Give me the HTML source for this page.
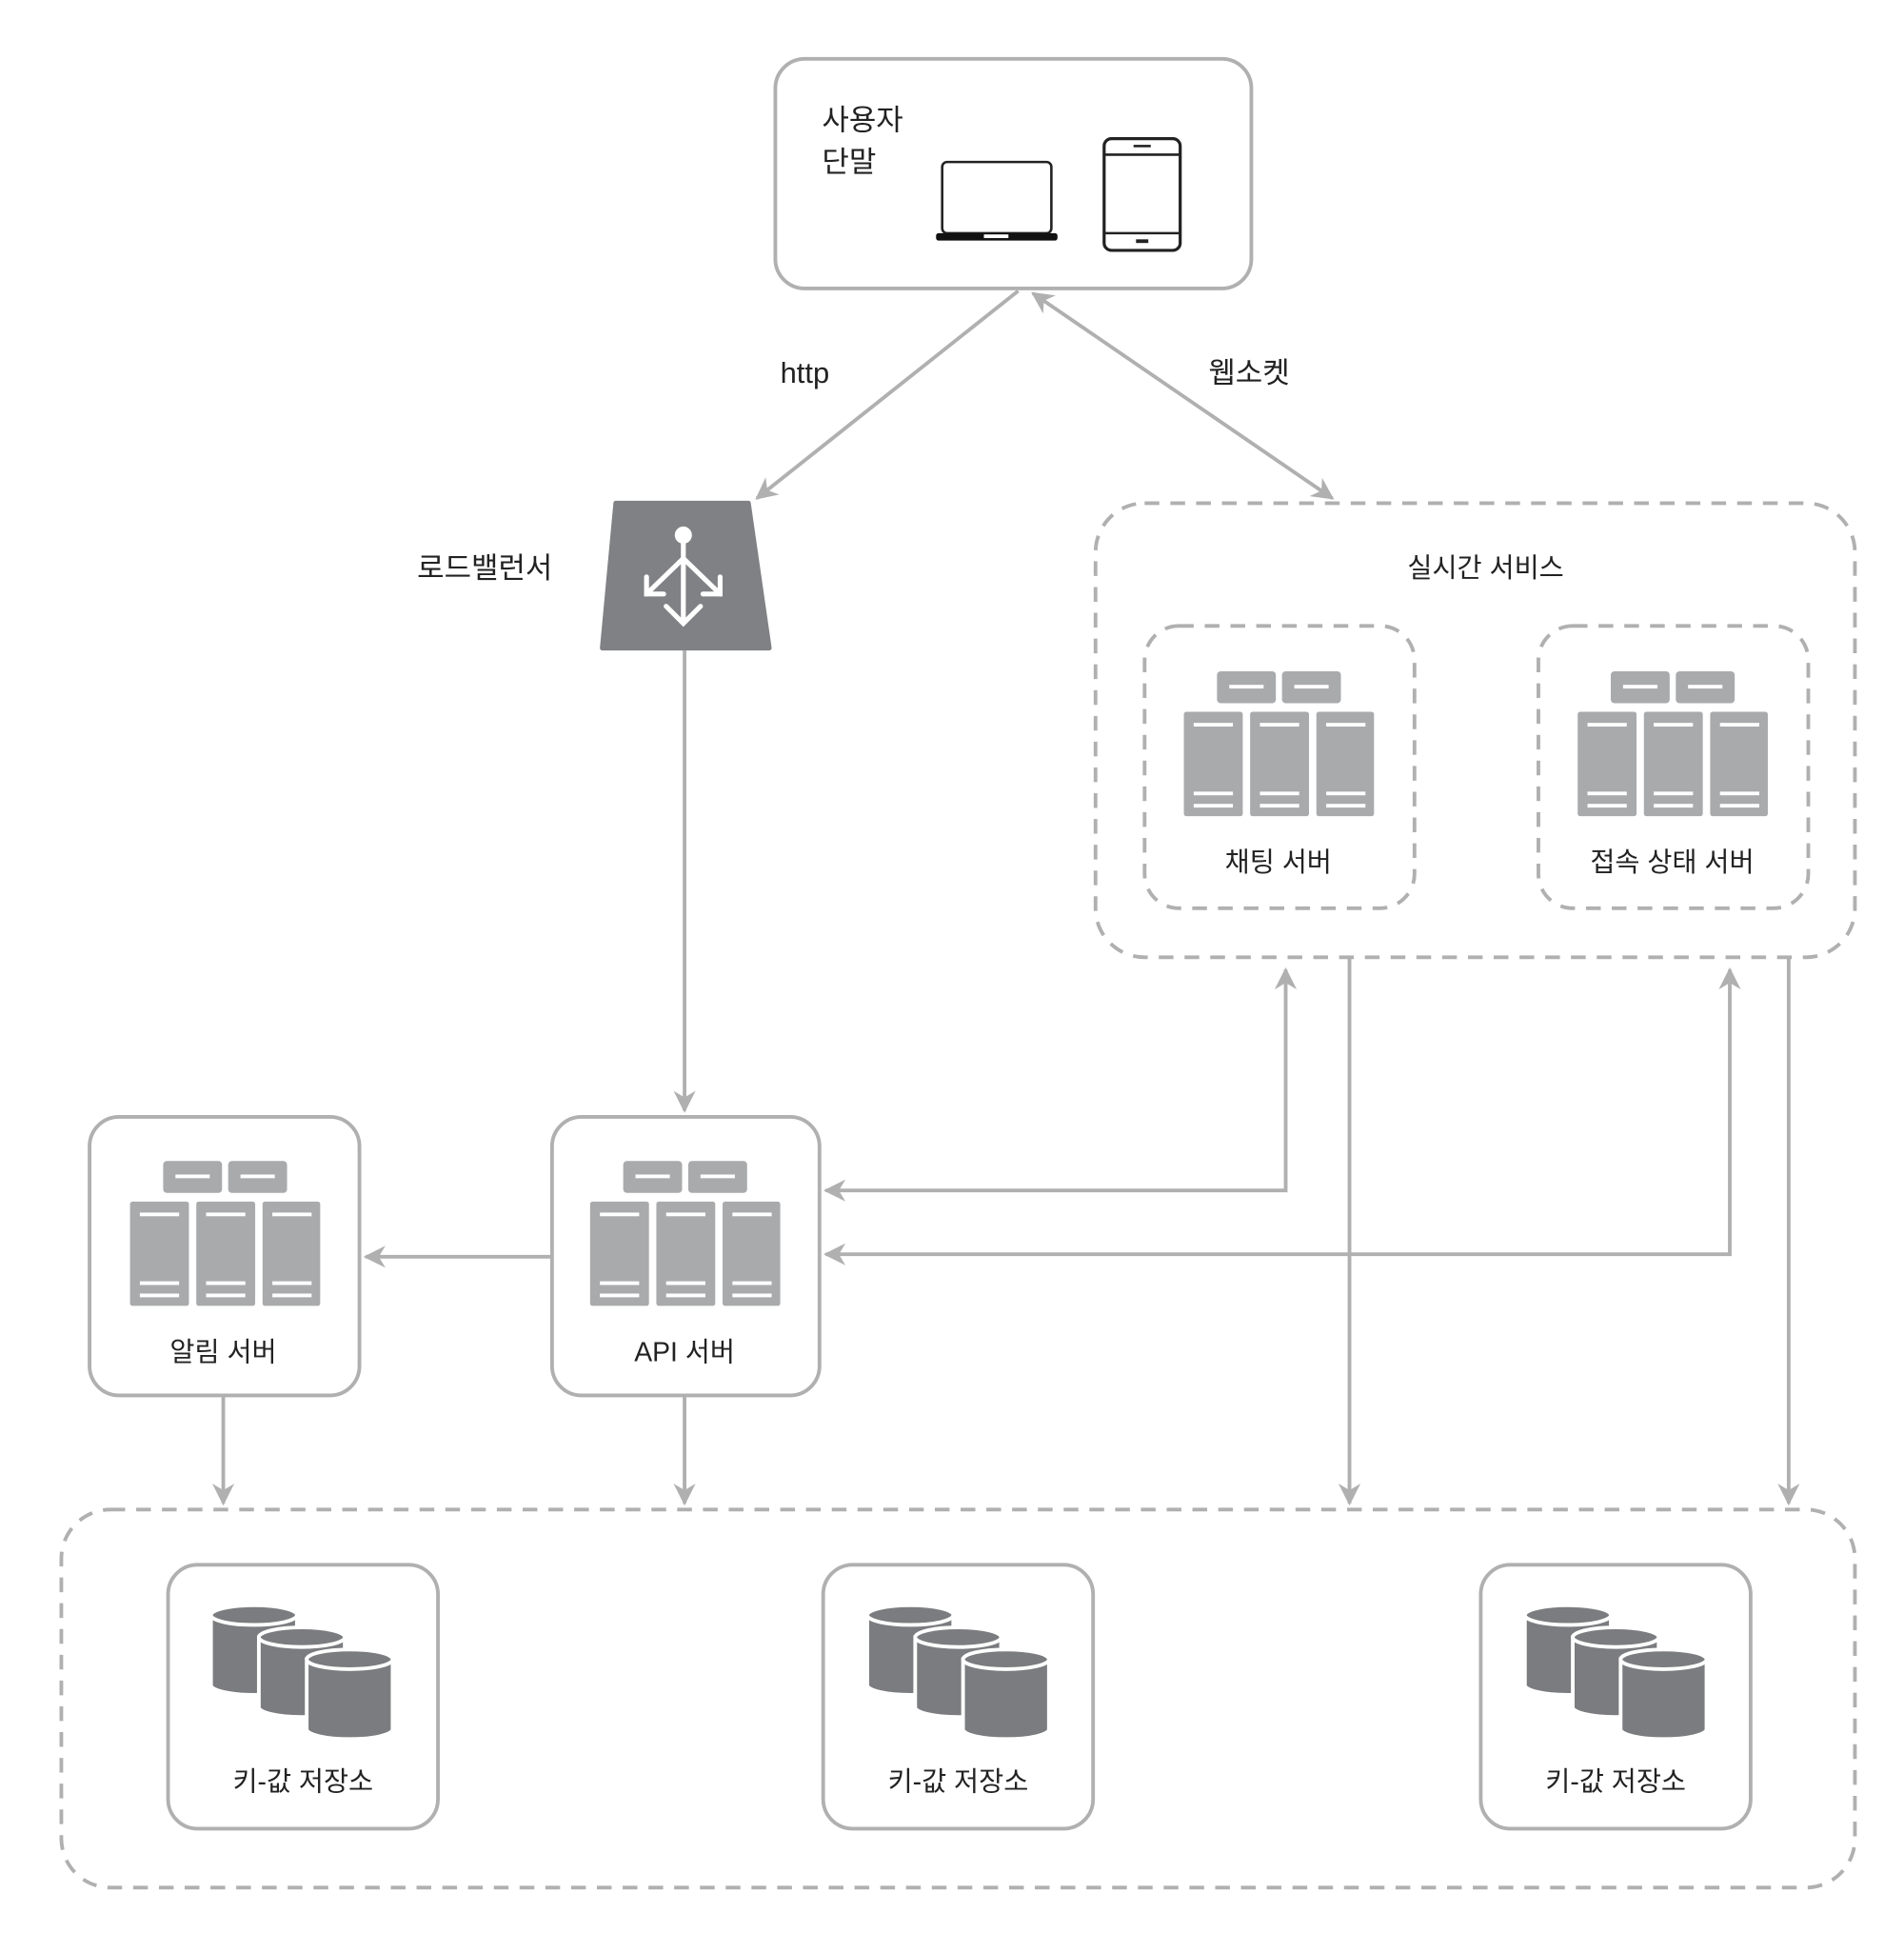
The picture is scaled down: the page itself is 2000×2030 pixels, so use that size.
<!DOCTYPE html>
<html><head><meta charset="utf-8"><style>
html,body{margin:0;padding:0;background:#fff;}
svg{display:block;}
text{font-family:"Liberation Sans","Noto Sans CJK KR",sans-serif;fill:#222;}
</style></head><body>
<svg width="2000" height="2030" viewBox="0 0 1552 1575" preserveAspectRatio="none" xmlns="http://www.w3.org/2000/svg">
<defs>
<marker id="ah" viewBox="0 0 10 10" refX="9" refY="5" markerWidth="6" markerHeight="6" orient="auto-start-reverse" markerUnits="strokeWidth">
<path d="M0,0 L10,5 L0,10 L3,5 z" fill="#b0b0b0"/></marker>
<g id="srv">
<rect x="27" y="0" width="48" height="26" rx="3" fill="#a9aaac"/>
<rect x="80" y="0" width="48" height="26" rx="3" fill="#a9aaac"/>
<rect x="37" y="11" width="28" height="3" fill="#fff"/>
<rect x="90" y="11" width="28" height="3" fill="#fff"/>
<rect x="0" y="33" width="48" height="85" rx="2" fill="#a9aaac"/>
<rect x="54" y="33" width="48" height="85" rx="2" fill="#a9aaac"/>
<rect x="108" y="33" width="47" height="85" rx="2" fill="#a9aaac"/>
<g fill="#fff">
<rect x="8" y="42" width="32" height="3"/><rect x="8" y="98" width="32" height="3"/><rect x="8" y="108" width="32" height="3"/>
<rect x="62" y="42" width="32" height="3"/><rect x="62" y="98" width="32" height="3"/><rect x="62" y="108" width="32" height="3"/>
<rect x="116" y="42" width="32" height="3"/><rect x="116" y="98" width="32" height="3"/><rect x="116" y="108" width="32" height="3"/>
</g></g>
<g id="cyl">
<path d="M0,9 L0,66 A35,8 0 0 0 70,66 L70,9 z" fill="#7b7c7f" stroke="#fff" stroke-width="3"/>
<ellipse cx="35" cy="9" rx="35" ry="8" fill="#7b7c7f" stroke="#fff" stroke-width="3"/>
</g>
<g id="db">
<use href="#cyl" x="0" y="0"/>
<use href="#cyl" x="39" y="18"/>
<use href="#cyl" x="78" y="36"/>
</g>
</defs>

<g fill="none" stroke="#b0b0b0" stroke-width="3">
<!-- user box -->
<rect x="632" y="48" width="388" height="187" rx="24"/>
<!-- realtime dashed -->
<rect x="893" y="410" width="619" height="370" rx="40" stroke-dasharray="12,9"/>
<rect x="933" y="510" width="220" height="230" rx="28" stroke-dasharray="12,9"/>
<rect x="1254" y="510" width="220" height="230" rx="28" stroke-dasharray="12,9"/>
<!-- storage dashed -->
<rect x="50" y="1230" width="1462" height="308" rx="40" stroke-dasharray="12,9"/>
<!-- API / notify -->
<rect x="450" y="910" width="218" height="227" rx="24"/>
<rect x="73" y="910" width="220" height="227" rx="24"/>
<!-- kv boxes -->
<rect x="137" y="1275" width="220" height="215" rx="24"/>
<rect x="671" y="1275" width="220" height="215" rx="24"/>
<rect x="1207" y="1275" width="220" height="215" rx="24"/>
</g>

<g fill="none" stroke="#b0b0b0" stroke-width="3" marker-end="url(#ah)">
<line x1="830" y1="237" x2="617" y2="406"/>
<line x1="842" y1="239" x2="1086" y2="406" marker-start="url(#ah)"/>
<line x1="558" y1="530" x2="558" y2="905"/>
<line x1="450" y1="1024" x2="298" y2="1024"/>
<polyline points="1048,790 1048,970 673,970" marker-start="url(#ah)"/>
<polyline points="1410,790 1410,1022 673,1022" marker-start="url(#ah)"/>
<line x1="1100" y1="780" x2="1100" y2="1225"/>
<line x1="1458" y1="780" x2="1458" y2="1225"/>
<line x1="182" y1="1137" x2="182" y2="1225"/>
<line x1="558" y1="1137" x2="558" y2="1225"/>
</g>

<!-- devices -->
<rect x="768" y="132" width="89" height="58" rx="4" fill="none" stroke="#222" stroke-width="2"/>
<rect x="763" y="190" width="99" height="6" rx="2" fill="#111"/>
<rect x="802" y="191" width="20" height="3" fill="#fff"/>
<rect x="900" y="113" width="62" height="91" rx="6" fill="none" stroke="#222" stroke-width="2.5"/>
<line x1="900" y1="126" x2="962" y2="126" stroke="#222" stroke-width="2"/>
<line x1="900" y1="190" x2="962" y2="190" stroke="#222" stroke-width="2"/>
<rect x="924" y="118" width="14" height="2" fill="#222"/>
<rect x="926" y="195" width="10" height="3" fill="#222"/>

<!-- load balancer -->
<path d="M502,410 L610,410 L627,528 L491,528 z" fill="#808184" stroke="#808184" stroke-width="4" stroke-linejoin="round"/>
<g stroke="#fff" stroke-width="4" fill="none" stroke-linecap="round">
<line x1="557" y1="438" x2="557" y2="507"/>
<line x1="557" y1="455" x2="527" y2="484"/>
<line x1="557" y1="455" x2="587" y2="484"/>
<polyline points="543,494 557,508 571,494"/>
<polyline points="527,470 527,484 541,484"/>
<polyline points="587,470 587,484 573,484"/>
</g>
<circle cx="557" cy="436" r="7" fill="#fff"/>

<!-- server icons -->
<use href="#srv" x="965" y="547"/>
<use href="#srv" x="1286" y="547"/>
<use href="#srv" x="481" y="946"/>
<use href="#srv" x="106" y="946"/>

<!-- db icons -->
<use href="#db" x="172" y="1307"/>
<use href="#db" x="707" y="1307"/>
<use href="#db" x="1243" y="1307"/>

<!-- labels -->
<g font-size="24">
<text x="670" y="106">사용자</text>
<text x="670" y="140">단말</text>
<text x="636" y="312">http</text>
<text x="985" y="312">웹소켓</text>
<text x="340" y="471">로드밸런서</text>
</g>
<g font-size="22" text-anchor="middle">
<text x="1211" y="470">실시간 서비스</text>
<text x="1042" y="710">채팅 서버</text>
<text x="1363" y="710">접속 상태 서버</text>
<text x="558" y="1109">API 서버</text>
<text x="182" y="1109">알림 서버</text>
<text x="247" y="1459">키-값 저장소</text>
<text x="781" y="1459">키-값 저장소</text>
<text x="1317" y="1459">키-값 저장소</text>
</g>
</svg>
</body></html>
